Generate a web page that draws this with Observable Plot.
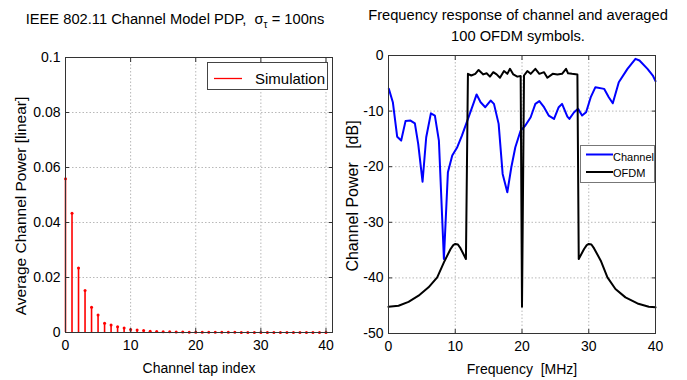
<!DOCTYPE html>
<html><head><meta charset="utf-8">
<script src="https://cdn.jsdelivr.net/npm/d3@7"></script>
<script src="https://cdn.jsdelivr.net/npm/@observablehq/plot@0.6"></script>
<style>
body{margin:0;background:#fff;}
#wrap{position:relative;width:687px;height:380px;overflow:hidden;font-family:"Liberation Sans",Arial,sans-serif;color:#000;}
#wrap svg{position:absolute;top:0;}
.abs{position:absolute;white-space:nowrap;}
.legend{position:absolute;background:#fff;border:1px solid #444;box-sizing:border-box;}
</style></head><body><div id="wrap"></div>
<script>
// ---- data ----
const tapIndex = d3.range(41);
const tapPower = [0.0559,0.0434,0.0235,0.0153,0.0092,0.0064,0.0034,0.0027,0.0021,0.0016,
  0.0011,0.0009,0.0007,0.0005,0.0004,0.0003,0.0003,0.0002,0.00015,0.00012,
  0.0001,0.00009,0.00008,0.00007,0.00006,0.00005,0.00005,0.00004,0.00004,0.00003,
  0.00003,0.00003,0.00002,0.00002,0.00002,0.00002,0.00001,0.00001,0.00001,0.00001,0.00001];
const xTicks = [0,10,20,30,40];
const yTicksLeft = [0,0.02,0.04,0.06,0.08,0.1];
const yTicksRight = [0,-10,-20,-30,-40,-50];

const channelFreq = [0.05,0.65,1.3,1.9,2.55,3.3,3.95,4.45,5.1,5.65,6.35,6.95,7.55,8.3,8.9,9.55,10.3,11.0,12.0,12.8,13.2,13.8,14.5,15.3,15.8,16.5,17.1,17.8,18.4,19.0,19.8,20.5,21.3,22.0,22.6,23.3,24.0,24.8,25.5,26.0,26.8,27.1,27.8,28.4,29.0,29.6,30.3,31.0,32.3,33.0,33.6,34.5,35.8,37.0,37.6,38.8,39.6,40.0];
const channelDb = [-6.0,-8.4,-14.6,-15.3,-11.8,-11.7,-12.2,-15.9,-22.7,-14.7,-10.4,-10.8,-15.3,-36.6,-21.0,-18.0,-16.5,-14.4,-11.1,-8.4,-7.0,-8.4,-9.3,-8.1,-8.7,-12.3,-21.3,-24.6,-20.1,-16.5,-13.5,-12.6,-11.1,-8.7,-8.2,-9.3,-10.8,-11.4,-9.3,-8.7,-11.0,-11.4,-10.2,-9.6,-10.8,-10.2,-7.5,-5.7,-6.0,-7.5,-8.6,-4.8,-2.4,-0.6,-0.9,-2.4,-3.6,-4.6];

const ofdmFreq = [0,1.5,3.0,4.5,6.0,7.3,8.3,9.3,9.7,10.0,10.4,10.8,11.6,11.9,12.4,13.0,13.5,14.2,14.7,15.2,15.7,16.2,16.7,17.3,17.8,18.2,18.7,19.3,19.8,20.0,20.3,20.8,21.3,22.0,22.6,23.3,23.8,24.6,25.3,26.0,26.6,26.9,27.5,28.3,28.5,29.3,29.7,30.0,30.4,30.8,31.8,32.8,34.0,35.5,37.3,39.0,40.0];
const ofdmDb = [-45.2,-45.0,-44.3,-43.2,-41.7,-39.9,-37.2,-34.8,-34.1,-33.9,-34.0,-34.7,-36.6,-3.3,-3.6,-3.3,-2.6,-3.4,-3.2,-3.8,-3.0,-3.4,-4.0,-2.8,-3.3,-2.4,-3.4,-3.8,-3.7,-45.2,-3.6,-2.8,-3.3,-2.4,-3.3,-3.0,-4.0,-3.3,-3.4,-3.3,-2.4,-3.2,-3.3,-3.4,-36.6,-34.8,-34.1,-33.9,-34.0,-34.7,-36.9,-39.9,-42.0,-43.5,-44.6,-45.2,-45.3];

const taps = tapIndex.map((k, i) => ({k, p: tapPower[i]}));
const channel = channelFreq.map((f, i) => ({f, db: channelDb[i]}));
const ofdm = ofdmFreq.map((f, i) => ({f, db: ofdmDb[i]}));

// ---- drawing ----
const font = "Liberation Sans, Arial, sans-serif";
const gridStyle = {stroke: "#b8b8b8", strokeOpacity: 1, strokeDasharray: "1.5,2"};
const inTick = {tickSize: -4, tickFormat: () => "", stroke: "#333", label: null};
const wrap = document.getElementById("wrap");

const left = Plot.plot({
  width: 343, height: 380,
  marginLeft: 65, marginRight: 11, marginTop: 57, marginBottom: 48,
  style: {fontSize: "14px", fontFamily: font, background: "transparent", overflow: "visible", color: "#000"},
  x: {domain: [0, 41]},
  y: {domain: [0, 0.1]},
  marks: [
    Plot.gridX({ticks: xTicks, ...gridStyle}),
    Plot.gridY({ticks: yTicksLeft, ...gridStyle}),
    Plot.ruleX(taps, {x: "k", y1: 0, y2: "p", stroke: "#ff0000", strokeWidth: 1.6}),
    Plot.dot(taps, {x: "k", y: "p", r: 1.5, fill: "#ff0000", stroke: "none"}),
    Plot.frame({stroke: "#333"}),
    Plot.axisX({ticks: xTicks, ...inTick, anchor: "bottom"}),
    Plot.axisX({ticks: xTicks, ...inTick, anchor: "top"}),
    Plot.axisY({ticks: yTicksLeft, ...inTick, anchor: "left"}),
    Plot.axisY({ticks: yTicksLeft, ...inTick, anchor: "right"}),
    Plot.axisX({ticks: xTicks, tickSize: 0, tickPadding: 8, anchor: "bottom", fontSize: 14,
      label: "Channel tap index", labelAnchor: "center", labelArrow: "none", labelOffset: 40}),
    Plot.axisY({ticks: yTicksLeft, tickSize: 0, tickPadding: 5, anchor: "left", fontSize: 14,
      tickFormat: d => d === 0 ? "0" : String(+d.toFixed(2)), label: null})
  ]
});
left.style.left = "0px";
wrap.appendChild(left);

const right = Plot.plot({
  width: 344, height: 380,
  marginLeft: 45, marginRight: 32, marginTop: 55, marginBottom: 47,
  style: {fontSize: "14px", fontFamily: font, background: "transparent", overflow: "visible", color: "#000"},
  x: {domain: [0, 40]},
  y: {domain: [-50, 0]},
  marks: [
    Plot.gridX({ticks: xTicks, ...gridStyle}),
    Plot.gridY({ticks: yTicksRight, ...gridStyle}),
    Plot.line(channel, {x: "f", y: "db", stroke: "#0000ff", strokeWidth: 2}),
    Plot.line(ofdm, {x: "f", y: "db", stroke: "#000", strokeWidth: 2}),
    Plot.frame({stroke: "#333"}),
    Plot.axisX({ticks: xTicks, ...inTick, anchor: "bottom"}),
    Plot.axisX({ticks: xTicks, ...inTick, anchor: "top"}),
    Plot.axisY({ticks: yTicksRight, ...inTick, anchor: "left"}),
    Plot.axisY({ticks: yTicksRight, ...inTick, anchor: "right"}),
    Plot.axisX({ticks: xTicks, tickSize: 0, tickPadding: 8, anchor: "bottom", fontSize: 14,
      label: "Frequency\u00a0 [MHz]", labelAnchor: "center", labelArrow: "none", labelOffset: 40}),
    Plot.axisY({ticks: yTicksRight, tickSize: 0, tickPadding: 5, anchor: "left", fontSize: 14,
      tickFormat: d => String(d), label: null})
  ]
});
right.style.left = "343px";
wrap.appendChild(right);

// titles and y labels
function addDiv(html, css) {
  const d = document.createElement("div");
  d.className = "abs";
  d.innerHTML = html;
  Object.assign(d.style, css);
  wrap.appendChild(d);
  return d;
}
addDiv("IEEE 802.11 Channel Model PDP,&nbsp; σ<sub style='font-size:10px;vertical-align:-4px'>τ</sub> = 100ns",
  {left: "175px", top: "9px", fontSize: "14.7px", lineHeight: "21px", transform: "translateX(-50%)"});
addDiv("Frequency response of channel and averaged<br>100 OFDM symbols.",
  {left: "518px", top: "5px", fontSize: "14.7px", lineHeight: "21px", textAlign: "center", transform: "translateX(-50%)"});
addDiv("Average Channel Power [linear]",
  {left: "21px", top: "206px", fontSize: "15.5px", lineHeight: "18px", transform: "translate(-50%,-50%) rotate(-90deg)"});
addDiv("Channel Power&nbsp;&nbsp; [dB]",
  {left: "353px", top: "196px", fontSize: "16px", lineHeight: "18px", transform: "translate(-50%,-50%) rotate(-90deg)"});

// legends
const lg1 = document.createElement("div");
lg1.className = "legend";
Object.assign(lg1.style, {left: "207px", top: "62px", width: "121px", height: "28px"});
lg1.innerHTML = `<svg width="119" height="26" style="position:absolute;left:0;top:0">
  <line x1="6" x2="34" y1="15.5" y2="15.5" stroke="#ff0000" stroke-width="1.3"/>
  <text x="47" y="21" font-size="15" font-family="${font}">Simulation</text></svg>`;
wrap.appendChild(lg1);

const lg2 = document.createElement("div");
lg2.className = "legend";
Object.assign(lg2.style, {left: "580px", top: "145px", width: "75px", height: "38px", borderColor: "#777"});
lg2.innerHTML = `<svg width="73" height="36" style="position:absolute;left:0;top:0">
  <line x1="5" x2="32" y1="8.5" y2="8.5" stroke="#0000ff" stroke-width="2"/>
  <text x="32" y="15" font-size="11" font-family="${font}">Channel</text>
  <line x1="5" x2="32" y1="26" y2="26" stroke="#000" stroke-width="2"/>
  <text x="32" y="31" font-size="11" font-family="${font}">OFDM</text></svg>`;
wrap.appendChild(lg2);
</script></body></html>
